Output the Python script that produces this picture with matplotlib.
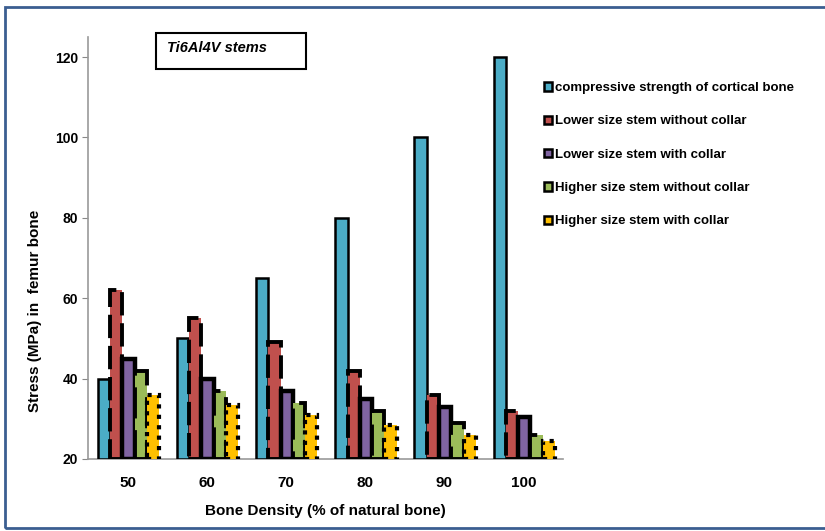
import matplotlib
matplotlib.use("Agg")
import matplotlib.pyplot as plt
from matplotlib.patches import Rectangle, Patch
import numpy as np

plt.rcParams['font.family'] = ['Liberation Sans', 'DejaVu Sans']

categories = ["50", "60", "70", "80", "90", "100"]
series_names = [
    "compressive strength of cortical bone",
    "Lower size stem without collar",
    "Lower size stem with collar",
    "Higher size stem without collar",
    "Higher size stem with collar",
]
cortical = [40, 50, 65, 80, 100, 120]
lower_no_collar = [62, 55, 49, 42, 36, 32]
lower_collar = [45, 40, 37, 35, 33, 30.5]
higher_no_collar = [42, 37, 34, 32, 29, 26]
higher_collar = [36, 33.5, 31, 28.5, 26, 24.5]

colors = ["#4BACC6", "#C0504D", "#8064A2", "#9BBB59", "#FFC000"]
edge_styles = ["solid", (0, (6, 2)), "solid", (0, (8, 3)), (0, (1, 1.5))]
edge_widths = [1.8, 2.8, 3.2, 2.8, 3.0]

all_series = [cortical, lower_no_collar, lower_collar, higher_no_collar, higher_collar]

fig = plt.figure(figsize=(8.25, 5.31), dpi=100)
ax = fig.add_axes([0.1067, 0.1356, 0.5758, 0.7947])

x = np.arange(len(categories))
w = 0.155
base = 20
for i, (vals, c, ls, lw) in enumerate(zip(all_series, colors, edge_styles, edge_widths)):
    heights = [v - base for v in vals]
    ax.bar(x + (i - 2) * w + 0.01, heights, width=w, bottom=base, color=c,
           edgecolor="black", linewidth=lw, linestyle=ls, zorder=3)

ax.set_xlim(-0.5, len(categories) - 0.5)
ax.set_ylim(20, 125)
ax.set_yticks([20, 40, 60, 80, 100, 120])
ax.set_xticks(x)
ax.set_xticklabels(categories, fontsize=11, fontweight="bold")
ax.tick_params(axis="x", length=0, pad=12)
ax.tick_params(axis="y", length=4, color="#888888", labelsize=10, pad=3)
for lab in ax.get_yticklabels():
    lab.set_fontweight("bold")
for s in ["top", "right"]:
    ax.spines[s].set_visible(False)
for s in ["left", "bottom"]:
    ax.spines[s].set_color("#999999")
    ax.spines[s].set_linewidth(1.2)

ax.set_xlabel("Bone Density (% of natural bone)", fontsize=11, fontweight="bold", labelpad=10)
ax.set_ylabel("Stress (MPa) in  femur bone", fontsize=11, fontweight="bold")
ax.yaxis.set_label_coords(-0.096, 0.351)

handles = [Patch(facecolor=c, edgecolor="black", linewidth=1.8) for c in colors]
leg = fig.legend(handles, series_names, loc="upper left", bbox_to_anchor=(0.645, 0.868),
                 frameon=False, handlelength=0.6, handleheight=0.6,
                 handletextpad=0.25, labelspacing=1.62, prop={"weight": "bold", "size": 9.5})

# title box
fig.text(0.203, 0.909, "Ti6Al4V stems", fontsize=10.5, fontweight="bold", style="italic",
         ha="left", va="center")
fig.patches.append(Rectangle((0.189, 0.870), 0.182, 0.068, transform=fig.transFigure,
                             fill=False, edgecolor="black", linewidth=1.5))

# outer frame
fig.patches.append(Rectangle((0.006, 0.006), 1.0, 0.981, transform=fig.transFigure,
                             fill=False, edgecolor="#3B5E91", linewidth=2))

fig.savefig("out.png", dpi=100)
